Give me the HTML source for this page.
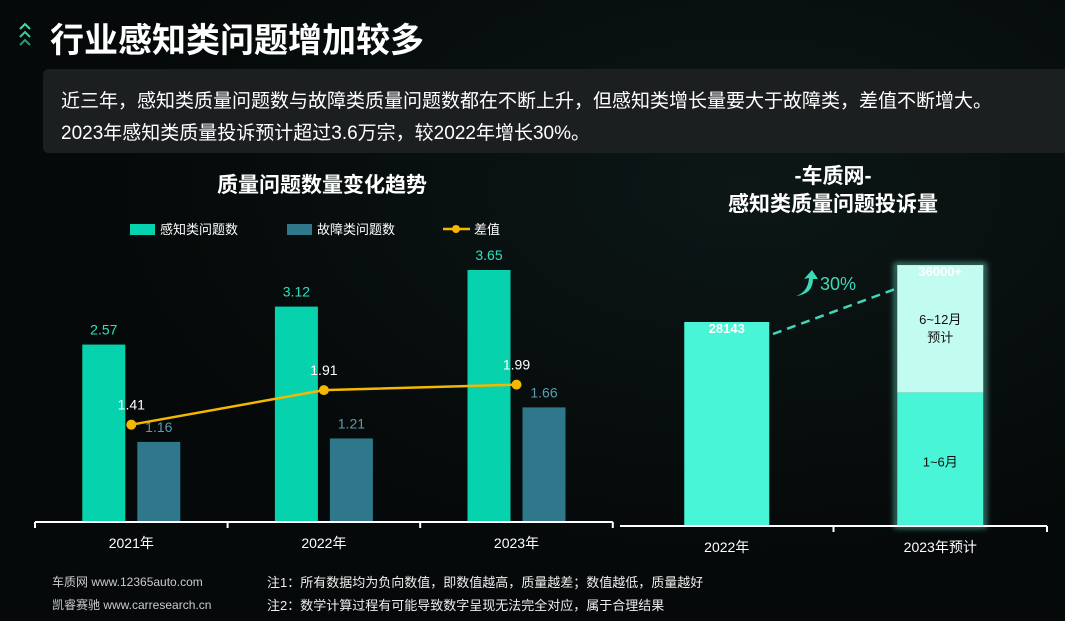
<!DOCTYPE html>
<html><head><meta charset="utf-8">
<style>
body{margin:0;width:1065px;height:621px;overflow:hidden;background:#050909;font-family:"Liberation Sans","Noto Sans CJK SC",sans-serif;color:#fff;position:relative}
.abs{position:absolute}
</style></head><body>
<div class="abs" style="left:0;top:0;width:1065px;height:621px;background:radial-gradient(ellipse at 70% 30%,#0c1716 0%,#050909 60%)"></div>
<svg class="abs" style="left:18px;top:22px" width="16" height="28">
<polyline points="2,7 7,2 12,7" fill="none" stroke="#3fd8b0" stroke-width="2"/>
<polyline points="2,15 7,10 12,15" fill="none" stroke="#3fc8a0" stroke-width="2"/>
<polyline points="2,23 7,18 12,23" fill="none" stroke="#2a9a70" stroke-width="2"/>
</svg>
<div class="abs" style="left:50px;top:13px;font-size:34px;font-weight:bold">行业感知类问题增加较多</div>
<div class="abs" style="left:43px;top:69px;width:1030px;height:84px;background:#1c1f20;border-radius:5px"></div>
<div class="abs" style="left:61px;top:86px;font-size:19px;line-height:32px;white-space:nowrap">近三年，感知类质量问题数与故障类质量问题数都在不断上升，但感知类增长量要大于故障类，差值不断增大。<br>2023年感知类质量投诉预计超过3.6万宗，较2022年增长30%。</div>
<svg class="abs" style="left:0;top:0" width="1065" height="621">
<defs><filter id="glow" x="-30%" y="-30%" width="160%" height="160%"><feGaussianBlur stdDeviation="3"/></filter></defs>
<g id="left"></g>
<g id="right"></g>
</svg>
<div class="abs" style="left:52px;top:573px;font-size:12px;color:#ccc">车质网 www.12365auto.com</div>
<div class="abs" style="left:52px;top:596px;font-size:12px;color:#ccc">凯睿赛驰 www.carresearch.cn</div>
<div class="abs" style="left:267px;top:572px;font-size:13px;color:#eee">注1：所有数据均为负向数值，即数值越高，质量越差；数值越低，质量越好</div>
<div class="abs" style="left:267px;top:595px;font-size:13px;color:#eee">注2：数学计算过程有可能导致数字呈现无法完全对应，属于合理结果</div>
<script>
const years=['2021年','2022年','2023年'];
const perception=[2.57,3.12,3.65];
const fault=[1.16,1.21,1.66];
const diff=[1.41,1.91,1.99];
const rCats=['2022年','2023年预计'];
const rTotal=[28143,36000];
const rFirstHalf=[28143,18400];
const rLabels=['28143','36000+'];
const NS='http://www.w3.org/2000/svg';
function mk(p,tag,a,txt){const e=document.createElementNS(NS,tag);for(const k in a)e.setAttribute(k,a[k]);if(txt!==undefined)e.textContent=txt;p.appendChild(e);return e;}
const L=document.getElementById('left'),R=document.getElementById('right');
const base=522,k=69.04,x0=35,step=192.6;
const yL=v=>base-v*k, cx=i=>x0+step*(i+0.5);
let t=mk(L,'text',{x:322,y:192,'text-anchor':'middle','font-size':21,'font-weight':'bold',fill:'#fff'},'质量问题数量变化趋势');

let lg=mk(L,'g',{});
mk(lg,'rect',{x:130,y:224,width:25,height:11,fill:'#07d2ae'});mk(lg,'text',{x:160,y:234,'font-size':13,fill:'#fff'},'感知类问题数');
mk(lg,'rect',{x:287,y:224,width:25,height:11,fill:'#2f788c'});mk(lg,'text',{x:317,y:234,'font-size':13,fill:'#fff'},'故障类问题数');
mk(lg,'line',{x1:443,y1:229,x2:470,y2:229,stroke:'#f5b800','stroke-width':2.5});mk(lg,'circle',{cx:456,cy:229,r:4,fill:'#f5b800'});mk(lg,'text',{x:474,y:234,'font-size':13,fill:'#fff'},'差值');
years.forEach((y,i)=>{
 const c=cx(i);
 let b=mk(L,'rect',{x:c-49,y:yL(perception[i]),width:43,height:perception[i]*k,fill:'#07d2ae'});
 
 mk(L,'text',{x:c-27.5,y:yL(perception[i])-10,'text-anchor':'middle','font-size':14,fill:'#2fe0bd'},perception[i].toFixed(2));
 let f=mk(L,'rect',{x:c+6,y:yL(fault[i]),width:43,height:fault[i]*k,fill:'#2f788c'});
 
 mk(L,'text',{x:c+27.5,y:yL(fault[i])-10,'text-anchor':'middle','font-size':14,fill:'#5a9bb0'},fault[i].toFixed(2));
 let xl=mk(L,'text',{x:c,y:548,'text-anchor':'middle','font-size':14,fill:'#fff'},y);
 
});
let pts=diff.map((v,i)=>(cx(i)).toFixed(1)+','+yL(v).toFixed(1)).join(' ');
let pl=mk(L,'polyline',{points:pts,fill:'none',stroke:'#f5b800','stroke-width':2.5});

diff.forEach((v,i)=>{let p=mk(L,'circle',{cx:cx(i),cy:yL(v),r:5,fill:'#f5b800'});
 
 mk(L,'text',{x:cx(i),y:yL(v)-15,'text-anchor':'middle','font-size':14,fill:'#fff'},v.toFixed(2));});
mk(L,'line',{x1:x0,y1:base,x2:x0+step*3,y2:base,stroke:'#fff','stroke-width':2});
for(let i=0;i<=3;i++)mk(L,'line',{x1:x0+step*i,y1:base,x2:x0+step*i,y2:base+6,stroke:'#fff','stroke-width':2});
const rb=526,rk=204/28143,rx0=620,rstep=213.5;
const yR=v=>rb-v*rk, rcx=i=>rx0+rstep*(i+0.5);
t=mk(R,'text',{x:833,y:183,'text-anchor':'middle','font-size':21,'font-weight':'bold',fill:'#fff'},'-车质网-');

mk(R,'text',{x:833,y:211,'text-anchor':'middle','font-size':21,'font-weight':'bold',fill:'#fff'},'感知类质量问题投诉量');
mk(R,'rect',{x:rcx(1)-44,y:yR(rTotal[1]),width:88,height:rTotal[1]*rk,fill:'none',stroke:'#6ff5dc','stroke-opacity':0.6,'stroke-width':4,filter:'url(#glow)'});
rCats.forEach((c,i)=>{
 const x=rcx(i);
 if(i==0){let b=mk(R,'rect',{x:x-42.5,y:yR(rTotal[0]),width:85,height:rTotal[0]*rk,fill:'#48f5d6'});}
 else{let b=mk(R,'rect',{x:x-43,y:yR(rTotal[1]),width:86,height:(rTotal[1]-rFirstHalf[1])*rk,fill:'#c2fbef'});
  let b2=mk(R,'rect',{x:x-43,y:yR(rFirstHalf[1]),width:86,height:rFirstHalf[1]*rk,fill:'#48f5d6'});
  mk(R,'text',{x:x,y:(yR(rTotal[1])+yR(rFirstHalf[1]))/2-5,'text-anchor':'middle','font-size':13,fill:'#111'},'6~12月');
  mk(R,'text',{x:x,y:(yR(rTotal[1])+yR(rFirstHalf[1]))/2+13,'text-anchor':'middle','font-size':13,fill:'#111'},'预计');
  mk(R,'text',{x:x,y:(rb+yR(rFirstHalf[1]))/2+7,'text-anchor':'middle','font-size':13,fill:'#111'},'1~6月');}
 mk(R,'text',{x:x,y:yR(rTotal[i])+11,'text-anchor':'middle','font-size':13,'font-weight':'bold',fill:'#fff'},rLabels[i]);
 let xl=mk(R,'text',{x:x,y:552,'text-anchor':'middle','font-size':14,fill:'#fff'},c);
 
});
let dl=mk(R,'line',{x1:773,y1:334,x2:898,y2:288,stroke:'#3ed8b8','stroke-width':2.5,'stroke-dasharray':'9,6'});

mk(R,'path',{d:'M796,296 Q808,292 809,278 L804,279 L812,270 L818,279 L813,279 Q813,294 796,296 Z',fill:'#3ed8b8'});
mk(R,'text',{x:820,y:290,'font-size':18,fill:'#3ed8b8'},'30%');
mk(R,'line',{x1:rx0,y1:rb,x2:rx0+rstep*2,y2:rb,stroke:'#fff','stroke-width':2});
for(let i=1;i<=2;i++)mk(R,'line',{x1:rx0+rstep*i,y1:rb,x2:rx0+rstep*i,y2:rb+6,stroke:'#fff','stroke-width':2});
</script>
</body></html>
